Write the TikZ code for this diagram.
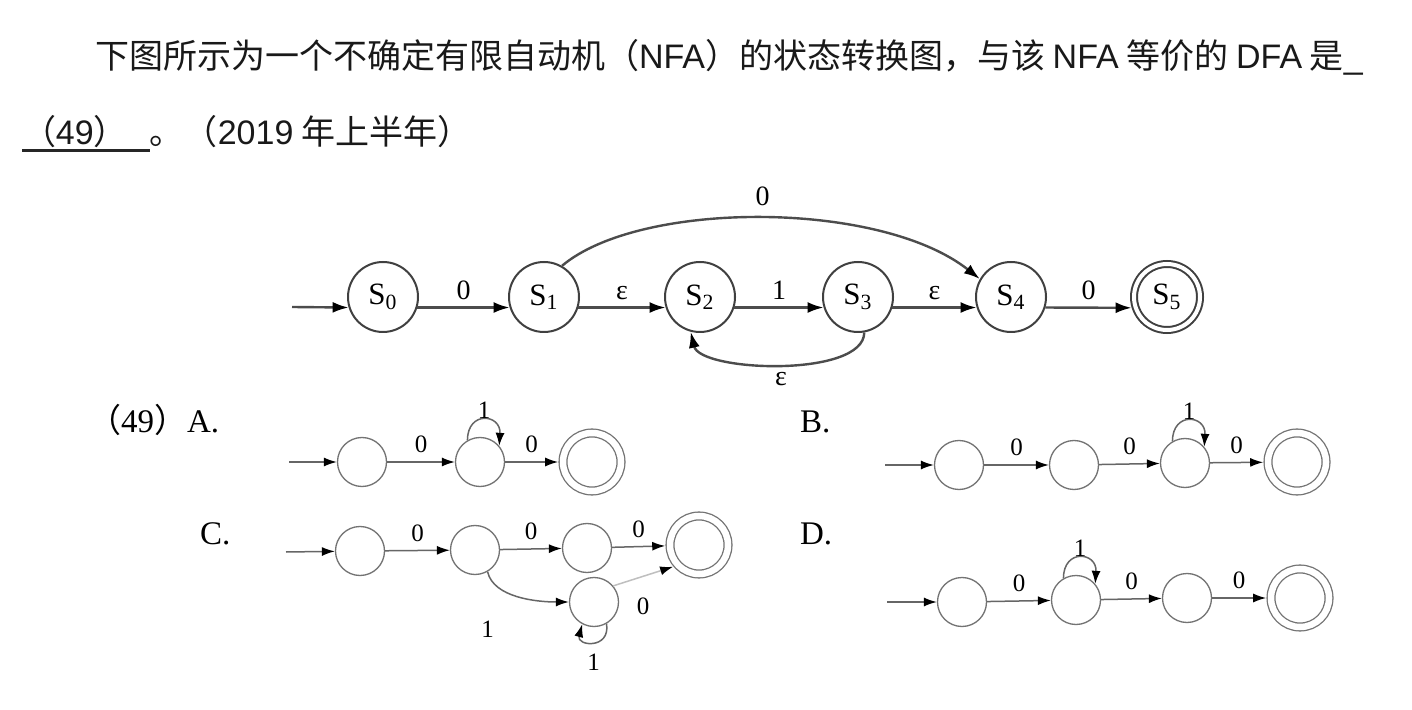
\documentclass[tikz,border=0pt]{standalone}
\usepackage{fontspec}
\setmainfont{Liberation Serif}
\newfontfamily\cjk{Noto Sans CJK SC}
\newfontfamily\lat{Liberation Sans}
\usetikzlibrary{arrows.meta}
\begin{document}
\begin{tikzpicture}[x=0.5pt,y=-0.5pt,
  every node/.style={inner sep=0pt, outer sep=0pt},
  cjkt/.style={anchor=base west, text=black!90, font=\cjk\fontsize{17pt}{20pt}\selectfont},
  st/.style={circle, draw=black!75, line width=1pt, minimum size=35pt, outer sep=0.5pt, font=\fontsize{15.5pt}{18pt}\selectfont},
  acc/.style={st, minimum size=33pt, double=white, double distance=2pt, outer sep=2pt},
  e/.style={-{Latex[length=8pt,width=5.5pt,color=black]}, line width=1.2pt, draw=black!70},
  lb/.style={font=\fontsize{14pt}{16pt}\selectfont},
  os/.style={circle, draw=black!55, line width=0.65pt, minimum size=24.5pt, outer sep=0.3pt},
  oa/.style={os, minimum size=29pt, double=white, double distance=3.25pt, outer sep=2.4pt},
  oe/.style={-{Latex[length=6.5pt,width=4.5pt,color=black]}, line width=0.75pt, draw=black!60},
  ol/.style={font=\fontsize{12.5pt}{14pt}\selectfont},
  opt/.style={anchor=base west, font=\fontsize{16.5pt}{18pt}\selectfont}
]
\fill[white] (0,0) rectangle (1412,710);
\path[use as bounding box] (0,0) rectangle (1412,710);

% question text
\node[cjkt] (t1) at (95,69) {下图所示为一个不确定有限自动机（{\lat NFA}）的状态转换图，与该 {\lat NFA} 等价的 {\lat DFA} 是{\lat\_}};
\node[cjkt] (t2a) at (22,145) {（{\lat 49}）\kern 11pt};
\node[cjkt] (t2b) at (t2a.base east) {。（{\lat 2019} 年上半年）};
\draw[line width=1.5pt, black!85] ([yshift=-3pt]t2a.base west) -- ([yshift=-3pt]t2a.base east);

% NFA
\node[st] (S0) at (383,297) {S\textsubscript{0}};
\node[st] (S1) at (544,297) {S\textsubscript{1}};
\node[st] (S2) at (700,297) {S\textsubscript{2}};
\node[st] (S3) at (858,297) {S\textsubscript{3}};
\node[st] (S4) at (1011,297) {S\textsubscript{4}};
\node[acc] (S5) at (1167,297) {S\textsubscript{5}};
\coordinate (in0) at (292,307);
\draw[e] (in0) -- (S0.197);
\draw[e] (S0.-17) -- node[lb, anchor=base, yshift=4pt] {0} (S1.197);
\draw[e] (S1.-17) -- node[lb, anchor=base, yshift=4pt] {ε} (S2.197);
\draw[e] (S2.-17) -- node[lb, anchor=base, yshift=4pt] {1} (S3.197);
\draw[e] (S3.-17) -- node[lb, anchor=base, yshift=4pt] {ε} (S4.197);
\draw[e] (S4.-17) -- node[lb, anchor=base, yshift=4pt] {0} (S5.197);
\draw[e] (S1.60) .. controls (640,200) and (880,200) .. (S4.150) node[lb, midway, above=6pt] {0};
\draw[e] (S3.-80) .. controls (864,378) and (700,372) .. (S2.-105) node[lb, midway, below=4pt] {ε};

% options
\node[opt] (qa) at (88,433) {{\cjk （}49{\cjk ）}A.};
\node[opt] (qb) at (800,433) {B.};
\node[opt] (qc) at (200,545) {C.};
\node[opt] (qd) at (800,545) {D.};

% A
\node[os] (A1) at (362,462) {};
\node[os] (A2) at (480,462) {};
\node[oa] (A3) at (592,462) {};
\coordinate (Ain) at (289,462);
\draw[oe] (Ain) -- (A1);
\draw[oe] (A1) -- node[ol, above=4.5pt] {0} (A2);
\draw[oe] (A2) -- node[ol, above=4.5pt] {0} (A3);
\draw[oe] (A2.120) .. controls +(0,-30) and +(2,-32) .. (A2.40) node[ol, midway, above=0.5pt] {1};

% B
\node[os] (B1) at (959,465) {};
\node[os] (B2) at (1074,465) {};
\node[os] (B3) at (1185,463) {};
\node[oa] (B4) at (1297,462) {};
\coordinate (Bin) at (885,465);
\draw[oe] (Bin) -- (B1);
\draw[oe] (B1) -- node[ol, above=4.5pt] {0} (B2);
\draw[oe] (B2) -- node[ol, above=4.5pt] {0} (B3);
\draw[oe] (B3) -- node[ol, above=4.5pt] {0} (B4);
\draw[oe] (B3.120) .. controls +(0,-30) and +(2,-32) .. (B3.40) node[ol, midway, above=0.5pt] {1};

% C
\node[os] (C1) at (360,551) {};
\node[os] (C2) at (475,550) {};
\node[os] (C3) at (587,548) {};
\node[oa] (C4) at (699,545) {};
\node[os] (C5) at (594,602) {};
\coordinate (Cin) at (286,552);
\draw[oe] (Cin) -- (C1);
\draw[oe] (C1) -- node[ol, above=4.5pt] {0} (C2);
\draw[oe] (C2) -- node[ol, above=4.5pt] {0} (C3);
\draw[oe] (C3) -- node[ol, above=4.5pt] {0} (C4);
\draw[oe] (C2.-60) .. controls +(6,26) and +(-32,0) .. (C5.180) node[ol, pos=0.3, xshift=-7pt, yshift=-20pt] {1};
\draw[oe, draw=black!25] (C5.40) -- node[ol, midway, below=11pt] {0} (C4.-140);
\draw[oe] (C5.-60) .. controls +(4,26) and +(-6,22) .. (C5.-118) node[ol, midway, below=6pt] {1};

% D
\node[os] (D1) at (962,602) {};
\node[os] (D2) at (1076,600) {};
\node[os] (D3) at (1187,598) {};
\node[oa] (D4) at (1300,598) {};
\coordinate (Din) at (887,602);
\draw[oe] (Din) -- (D1);
\draw[oe] (D1) -- node[ol, above=4.5pt] {0} (D2);
\draw[oe] (D2) -- node[ol, above=4.5pt] {0} (D3);
\draw[oe] (D3) -- node[ol, above=4.5pt] {0} (D4);
\draw[oe] (D2.120) .. controls +(0,-30) and +(2,-32) .. (D2.40) node[ol, midway, above=0.5pt] {1};
\end{tikzpicture}
\end{document}
